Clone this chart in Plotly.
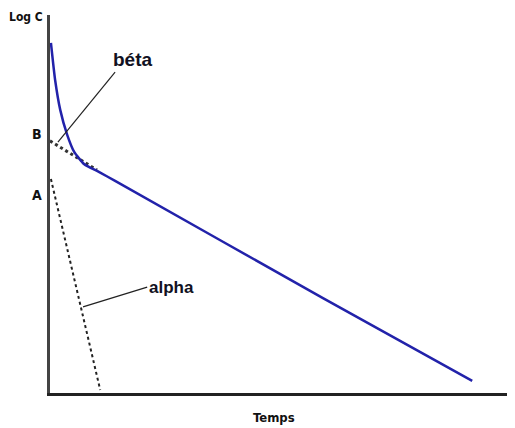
import plotly.graph_objects as go

# Biphasic log concentration curve (arbitrary units)
curve_t = [0.02, 0.11, 0.22, 0.37, 0.52, 0.73, 1.05, 1.40, 5.87, 9.08]
curve_logc = [9.26, 8.28, 7.49, 6.83, 6.38, 6.06, 5.85, 5.61, 2.51, 0.32]

beta_t = [0.0, 1.01]
beta_logc = [6.67, 5.90]

alpha_t = [0.02, 1.08]
alpha_logc = [5.66, 0.08]

beta_leader_t = [1.40, 0.17]
beta_leader_logc = [8.49, 6.64]
alpha_leader_t = [0.71, 2.09]
alpha_leader_logc = [2.28, 2.80]

fig = go.Figure()
fig.add_trace(go.Scatter(x=beta_t, y=beta_logc, mode="lines",
                         line=dict(color="#333333", width=3, dash="dot"),
                         hoverinfo="skip"))
fig.add_trace(go.Scatter(x=alpha_t, y=alpha_logc, mode="lines",
                         line=dict(color="#222222", width=2, dash="dot"),
                         hoverinfo="skip"))
fig.add_trace(go.Scatter(x=curve_t, y=curve_logc, mode="lines",
                         line=dict(color="#2222aa", width=2.5, shape="spline", smoothing=0.5),
                         hoverinfo="skip"))
fig.add_trace(go.Scatter(x=beta_leader_t, y=beta_leader_logc, mode="lines",
                         line=dict(color="#222222", width=1.2), hoverinfo="skip"))
fig.add_trace(go.Scatter(x=alpha_leader_t, y=alpha_leader_logc, mode="lines",
                         line=dict(color="#222222", width=1.2), hoverinfo="skip"))

narrow = dict(family="DejaVu Sans Condensed, Liberation Sans Narrow, Liberation Sans",
              size=14, color="#111111", weight="bold")
label = dict(family="Liberation Sans, Arial", size=17, color="#111122", weight="bold")

# labels placed in paper coordinates (outside the plotting area)
paper_anns = [
    dict(x=-0.052, y=0.995, text="Log C", font=dict(narrow, size=12)),
    dict(x=-0.028, y=0.686, text="B", font=narrow),
    dict(x=-0.028, y=0.524, text="A", font=narrow),
    dict(x=0.482, y=-0.066, text="Temps", font=dict(narrow, size=13)),
]
for a in paper_anns:
    fig.add_annotation(xref="paper", yref="paper", showarrow=False,
                       xanchor="center", yanchor="middle", **a)

data_anns = [
    dict(x=1.78, y=8.81, text="béta", font=dict(label, size=19), xanchor="center"),
    dict(x=2.09, y=2.80, text="alpha", font=label, xanchor="left"),
]
for a in data_anns:
    fig.add_annotation(xref="x", yref="y", showarrow=False, yanchor="middle", **a)

fig.update_layout(
    width=507, height=420,
    margin=dict(l=42, r=0, t=7, b=35),
    paper_bgcolor="white", plot_bgcolor="white",
    showlegend=False,
    xaxis=dict(range=[0, 10], showgrid=False, zeroline=False, showticklabels=False,
               ticks="", showline=True, linecolor="#222222", linewidth=3),
    yaxis=dict(range=[0, 10], showgrid=False, zeroline=False, showticklabels=False,
               ticks="", showline=True, linecolor="#444444", linewidth=3),
)

fig.write_html("out.html")
